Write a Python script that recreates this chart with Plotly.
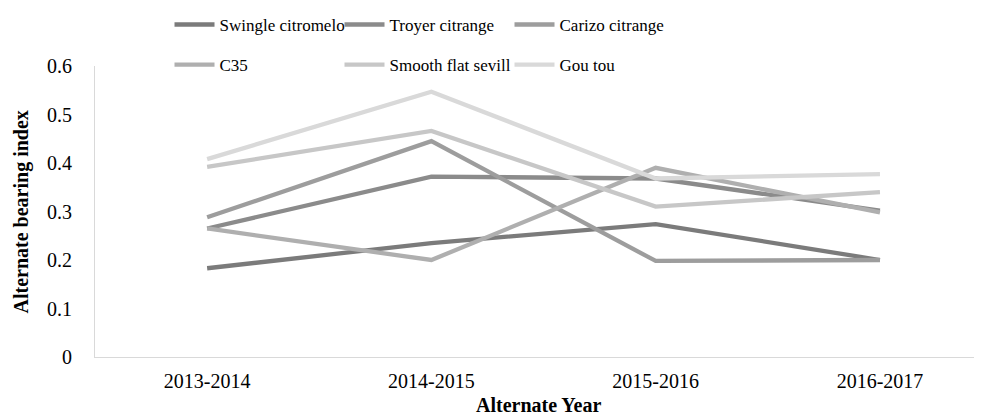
import plotly.graph_objects as go

years = ["2013-2014", "2014-2015", "2015-2016", "2016-2017"]
swingle = [0.183, 0.235, 0.274, 0.200]
troyer = [0.265, 0.372, 0.368, 0.302]
carizo = [0.288, 0.445, 0.198, 0.200]
c35 = [0.265, 0.200, 0.390, 0.298]
smooth = [0.392, 0.466, 0.310, 0.340]
goutou = [0.408, 0.547, 0.368, 0.377]

names = ["Swingle citromelo", "Troyer citrange", "Carizo citrange",
         "C35", "Smooth flat sevill", "Gou tou"]
series = [swingle, troyer, carizo, c35, smooth, goutou]
colors = ["#7b7b7b", "#8b8b8b", "#9d9d9d", "#afafaf", "#c7c7c7", "#d9d9d9"]
legends = ["legend", "legend", "legend", "legend2", "legend2", "legend2"]

FONT = "Liberation Serif, Times New Roman, Times, serif"

fig = go.Figure()
for n, s, c, lg in zip(names, series, colors, legends):
    fig.add_trace(go.Scatter(
        x=list(range(len(years))), y=s, name=n, mode="lines",
        line=dict(color=c, width=4.3), legend=lg,
    ))

leg_common = dict(
    orientation="h", xanchor="left", yanchor="middle",
    entrywidth=115, entrywidthmode="pixels", itemwidth=40,
    font=dict(family=FONT, size=17, color="#000000"),
    bgcolor="rgba(0,0,0,0)", traceorder="normal",
)

fig.update_layout(
    width=974, height=408,
    margin=dict(l=87, r=0, t=58, b=59, autoexpand=False),
    paper_bgcolor="white", plot_bgcolor="white",
    font=dict(family=FONT, size=20, color="#000000"),
    showlegend=True,
    legend=dict(x=0.084, y=1.141, **leg_common),
    legend2=dict(x=0.084, y=1.003, **leg_common),
    xaxis=dict(
        tickmode="array", tickvals=list(range(len(years))), ticktext=years,
        range=[-0.5, 3.455], showgrid=False, zeroline=False,
        showline=True, linecolor="#d9d9d9", linewidth=1,
        ticks="", ticklabelstandoff=6,
        tickfont=dict(family=FONT, size=20, color="#000000"),
    ),
    yaxis=dict(
        range=[0, 0.6], tickvals=[0, 0.1, 0.2, 0.3, 0.4, 0.5, 0.6],
        ticktext=["0", "0.1", "0.2", "0.3", "0.4", "0.5", "0.6"],
        showgrid=False, zeroline=False,
        showline=True, linecolor="#d9d9d9", linewidth=1,
        ticks="", ticklabelstandoff=18,
        tickfont=dict(family=FONT, size=20, color="#000000"),
    ),
    annotations=[
        dict(text="<b>Alternate Year</b>", xref="paper", yref="paper",
             x=0.5, y=-0.165, xanchor="center", yanchor="middle",
             showarrow=False, font=dict(family=FONT, size=20, color="#000000")),
        dict(text="<b>Alternate bearing index</b>", xref="paper", yref="paper",
             x=-0.0823, y=0.5, xanchor="center", yanchor="middle", textangle=-90,
             showarrow=False, font=dict(family=FONT, size=20, color="#000000")),
    ],
)

fig.write_html("out.html")
